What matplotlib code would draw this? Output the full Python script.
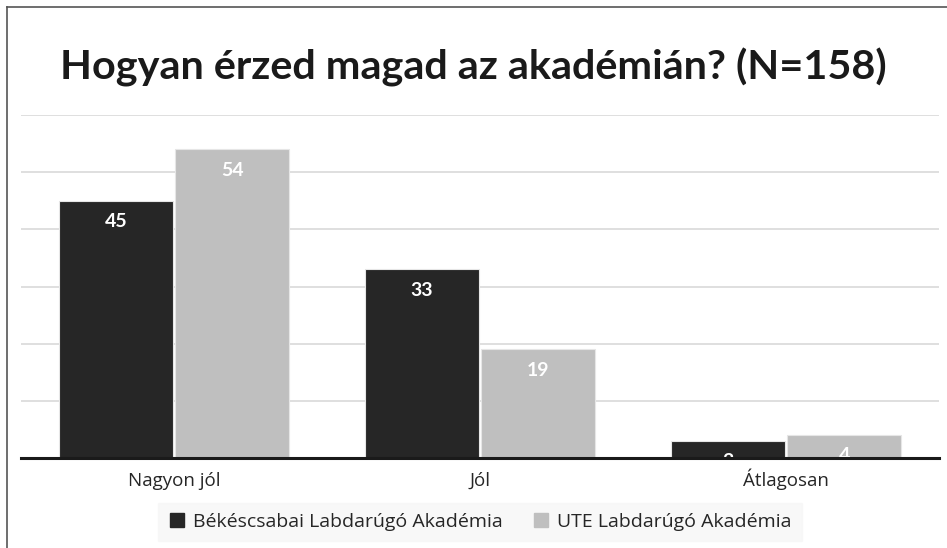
import matplotlib
matplotlib.use("Agg")
import matplotlib.pyplot as plt
from matplotlib.lines import Line2D
from matplotlib import transforms
import numpy as np

categories = ["Nagyon jól", "Jól", "Átlagosan"]
series_names = ["Békéscsabai Labdarúgó Akadémia", "UTE Labdarúgó Akadémia"]
bekescsaba = [45, 33, 3]
ute = [54, 19, 4]
colors = ["#262626", "#bfbfbf"]

plt.rcParams['font.family'] = ['Lato', 'DejaVu Sans']

W, H = 947, 548
fig = plt.figure(figsize=(W / 100, H / 100), dpi=100)
ax = fig.add_axes([21 / W, 1 - 458 / H, (939 - 21) / W, (458 - 115) / H])

x = np.arange(len(categories))
bw = 0.373
off = 0.19
b1 = ax.bar(x - off, bekescsaba, bw, color=colors[0], edgecolor="#e6e6e6", linewidth=0.8, zorder=2)
b2 = ax.bar(x + off, ute, bw, color=colors[1], edgecolor="#e6e6e6", linewidth=0.8, zorder=2)

for bars in (b1, b2):
    for r in bars:
        ax.annotate(f"{int(r.get_height())}", (r.get_x() + r.get_width() / 2, r.get_height()),
                    xytext=(0, -15), textcoords="offset points", ha="center", va="center",
                    color="white", fontsize=14, fontweight="bold", zorder=3)

ax.set_xlim(-0.5, len(categories) - 0.5)
ax.set_ylim(0, 60)
ax.set_yticks(np.arange(0, 61, 10))
ax.yaxis.grid(True, color="#d9d9d9", linewidth=1.2, zorder=0)
ax.set_axisbelow(True)
ax.tick_params(axis="y", left=False, labelleft=False)
ax.set_xticks(x)
ax.tick_params(axis="x", bottom=False, labelbottom=False)
trans = transforms.blended_transform_factory(ax.transData, fig.transFigure)
for xi, c in zip(x, categories):
    ax.text(xi, 1 - 486 / H, c, transform=trans, ha="center", va="baseline",
            fontsize=13.5, color="#262626", family=["Open Sans", "DejaVu Sans"])
for s in ["top", "right", "left"]:
    ax.spines[s].set_visible(False)
ax.spines["bottom"].set_color("#1a1a1a")
ax.spines["bottom"].set_linewidth(2.2)
ax.spines["bottom"].set_zorder(4)

fig.text(0.5, 1 - 67 / H, "Hogyan érzed magad az akadémián? (N=158)", ha="center", va="center",
         fontsize=29.8, fontweight="bold", color="#1a1a1a")

handles = [Line2D([], [], marker="s", linestyle="none", markersize=10, markerfacecolor=c,
                  markeredgecolor=c) for c in colors]
leg = fig.legend(handles, series_names, loc="center", bbox_to_anchor=(480 / W, 1 - 522 / H),
                 ncol=2, frameon=True, handlelength=0.9, handletextpad=0.4, columnspacing=1.5,
                 borderpad=0.5, borderaxespad=0, fancybox=False,
                 prop={"family": ["Open Sans", "DejaVu Sans"], "size": 14})
leg.get_frame().set_facecolor("#f7f7f7")
leg.get_frame().set_edgecolor("#f7f7f7")
for t in leg.get_texts():
    t.set_color("#262626")

# figure border (left and top)
fig.add_artist(Line2D([7 / W, 7 / W], [0, 1 - 7 / H], transform=fig.transFigure, color="#555555", linewidth=1.2))
fig.add_artist(Line2D([7 / W, 1], [1 - 7 / H, 1 - 7 / H], transform=fig.transFigure, color="#555555", linewidth=1.2))

fig.savefig("out.png", dpi=100)
